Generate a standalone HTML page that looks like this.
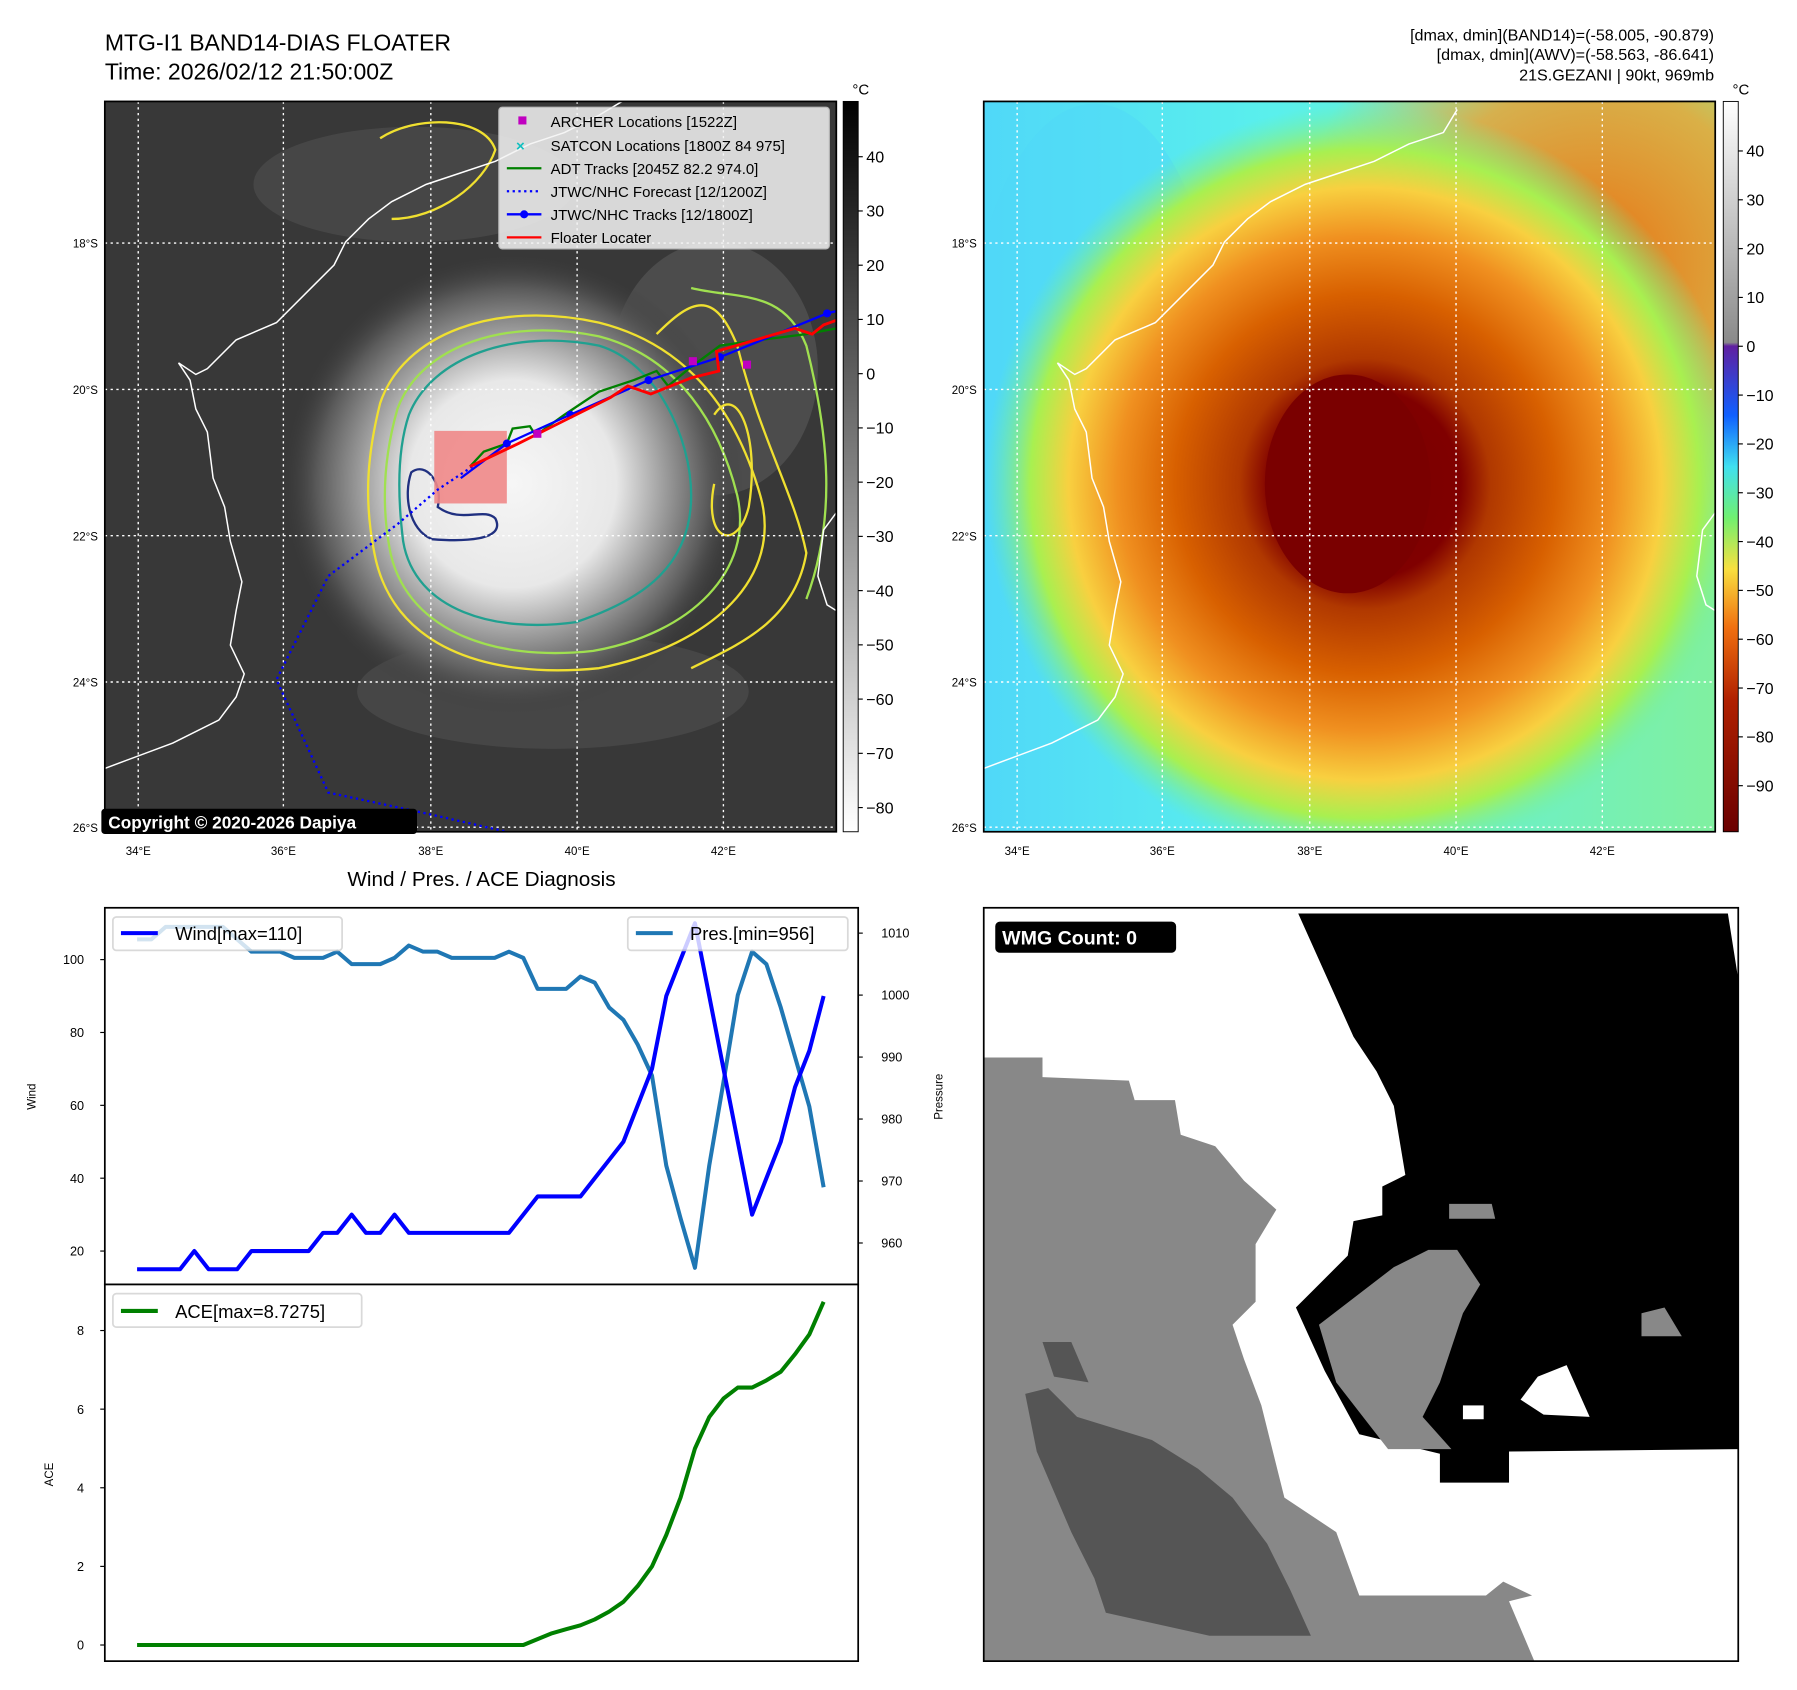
<!DOCTYPE html>
<html><head><meta charset="utf-8"><style>
html,body{margin:0;padding:0;background:#fff;}
svg{display:block;font-family:"Liberation Sans","DejaVu Sans",sans-serif;}
</style></head><body>
<svg id="fig" width="1797" height="1690" viewBox="0 0 1560 1467" xmlns="http://www.w3.org/2000/svg">
<defs>
 <radialGradient id="storm1" cx="445" cy="420" r="200" gradientUnits="userSpaceOnUse">
  <stop offset="0" stop-color="#f6f6f6"/><stop offset="0.45" stop-color="#e8e8e8"/>
  <stop offset="0.65" stop-color="#a0a0a0"/><stop offset="0.85" stop-color="#5a5a5a"/><stop offset="1" stop-color="#3a3a3a" stop-opacity="0"/>
 </radialGradient>
 <radialGradient id="storm2" cx="1185" cy="420" r="330" gradientUnits="userSpaceOnUse">
  <stop offset="0" stop-color="#780000"/><stop offset="0.25" stop-color="#800000"/>
  <stop offset="0.33" stop-color="#b03800"/><stop offset="0.5" stop-color="#d86000"/>
  <stop offset="0.65" stop-color="#f09020"/><stop offset="0.78" stop-color="#f8d040"/>
  <stop offset="0.88" stop-color="#a8f050"/><stop offset="1" stop-color="#70f0a0" stop-opacity="0"/>
 </radialGradient>
 <radialGradient id="ne2" cx="1380" cy="230" r="260" gradientUnits="userSpaceOnUse">
  <stop offset="0" stop-color="#e87010"/><stop offset="0.6" stop-color="#f0a030" stop-opacity="0.8"/><stop offset="1" stop-color="#f0c040" stop-opacity="0"/>
 </radialGradient>
 <linearGradient id="bg2" x1="0" y1="0" x2="1" y2="0">
  <stop offset="0" stop-color="#50d8f8"/><stop offset="0.4" stop-color="#5af0ec"/><stop offset="1" stop-color="#80f0a0"/>
 </linearGradient>
 <linearGradient id="cb1" x1="0" y1="0" x2="0" y2="1">
  <stop offset="0" stop-color="#000"/><stop offset="1" stop-color="#fff"/>
 </linearGradient>
 <linearGradient id="cb2" x1="0" y1="0" x2="0" y2="1">
  <stop offset="0" stop-color="#ffffff"/><stop offset="0.33" stop-color="#8a8a8a"/>
  <stop offset="0.335" stop-color="#6020a0"/><stop offset="0.43" stop-color="#1060ff"/>
  <stop offset="0.5" stop-color="#40e0f0"/><stop offset="0.57" stop-color="#70f070"/>
  <stop offset="0.64" stop-color="#f8e040"/><stop offset="0.72" stop-color="#f07010"/>
  <stop offset="0.82" stop-color="#b02000"/><stop offset="1" stop-color="#6a0000"/>
 </linearGradient>
 <clipPath id="c1"><rect x="91" y="88" width="635" height="634"/></clipPath>
 <clipPath id="c2"><rect x="854" y="88" width="635" height="634"/></clipPath>
 <clipPath id="c3"><rect x="854" y="788" width="655" height="654"/></clipPath>
</defs>

<text x="91" y="44" font-size="20">MTG-I1 BAND14-DIAS FLOATER</text>
<text x="91" y="69" font-size="20">Time: 2026/02/12 21:50:00Z</text>
<g font-size="14" text-anchor="end">
 <text x="1488" y="35">[dmax, dmin](BAND14)=(-58.005, -90.879)</text>
 <text x="1488" y="52">[dmax, dmin](AWV)=(-58.563, -86.641)</text>
 <text x="1488" y="70">21S.GEZANI | 90kt, 969mb</text>
</g>

<!-- MAP 1 -->
<g clip-path="url(#c1)">
 <rect x="91" y="88" width="635" height="634" fill="#383838"/>
 <ellipse cx="360" cy="160" rx="140" ry="50" fill="#505050" opacity="0.6"/>
 <ellipse cx="480" cy="600" rx="170" ry="50" fill="#505050" opacity="0.6"/>
 <ellipse cx="620" cy="320" rx="90" ry="110" fill="#5a5a5a" opacity="0.6"/>
 <circle cx="445" cy="420" r="200" fill="url(#storm1)"/>
 <g fill="none" stroke-width="2">
  <path d="M330,350 C350,290 430,260 520,280 C600,300 640,360 660,430 C680,500 620,560 520,580 C420,590 340,560 325,480 C315,430 320,390 330,350Z" stroke="#f0e030"/>
  <path d="M345,355 C365,300 440,275 520,292 C590,310 625,370 640,430 C655,495 600,550 515,565 C425,575 350,545 338,475 C330,430 335,390 345,355Z" stroke="#a0e050"/>
  <path d="M355,360 C375,310 445,285 520,300 C570,315 600,380 600,430 C600,490 560,520 500,540 C430,550 360,530 350,470 C345,430 345,390 355,360Z" stroke="#20a090"/>
  <path d="M357,410 C370,400 385,420 380,440 C400,455 420,440 430,450 C440,470 400,470 375,468 C355,460 350,430 357,410Z" stroke="#203080"/>
  <path d="M570,290 C600,260 620,250 640,300 C660,380 690,430 700,480 C690,540 640,560 600,580" stroke="#f0e030"/>
  <path d="M600,250 C640,260 680,250 700,300 C720,380 726,450 700,520" stroke="#a0e050"/>
  <path d="M330,120 C360,100 420,100 430,130 C420,160 380,190 340,190" stroke="#f0e030"/>
  <path d="M620,360 C640,330 660,380 650,440 C640,480 610,470 620,420" stroke="#f0e030"/>
 </g>
 <g stroke="#fff" stroke-width="1.2" stroke-dasharray="2,3">
  <line x1="120" y1="88" x2="120" y2="722"/><line x1="246" y1="88" x2="246" y2="722"/><line x1="374" y1="88" x2="374" y2="722"/><line x1="501" y1="88" x2="501" y2="722"/><line x1="628" y1="88" x2="628" y2="722"/>
  <line x1="91" y1="211" x2="726" y2="211"/><line x1="91" y1="338" x2="726" y2="338"/><line x1="91" y1="465" x2="726" y2="465"/><line x1="91" y1="592" x2="726" y2="592"/><line x1="91" y1="718" x2="726" y2="718"/>
 </g>
 <path d="M91,667 L150,645 L190,625 L205,605 L212,585 L200,560 L205,530 L210,505 L200,470 L195,440 L185,415 L180,375 L170,355 L165,330 L155,315 L170,325 L180,320 L205,295 L240,280 L270,250 L290,230 L300,210 L320,190 L340,175 L370,160 L400,150 L430,140 L460,125 L490,115 L520,100 L540,88 M726,445 L715,460 L710,500 L718,525 L726,530" fill="none" stroke="#fff" stroke-width="1.3"/>
 <rect x="377" y="374" width="63" height="63" fill="#f08888" opacity="0.9"/>
 <polyline fill="none" stroke="#0000ff" stroke-width="2" stroke-dasharray="2,3" points="410,405 380,425 345,455 285,500 240,590 285,688 365,705 440,722"/>
 <polyline fill="none" stroke="#008000" stroke-width="2" points="408,405 420,392 440,385 445,372 460,370 465,378 490,360 520,340 550,330 570,322 580,335 598,320 625,300 660,295 700,290 726,285"/>
 <polyline fill="none" stroke="#0000ff" stroke-width="2" points="400,415 440,385 495,360 563,330 625,310 718,272 726,270"/>
 <g fill="#0000ff"><circle cx="440" cy="385" r="3.5"/><circle cx="495" cy="360" r="3.5"/><circle cx="563" cy="330" r="3.5"/><circle cx="625" cy="310" r="3.5"/><circle cx="718" cy="272" r="3.5"/></g>
 <polyline fill="none" stroke="#ff0000" stroke-width="2.5" points="408,405 450,385 490,365 530,345 545,335 565,342 600,328 624,322 622,305 690,285 705,290 715,282 726,278"/>
 <g fill="#c000c0"><rect x="463" y="373" width="7" height="7"/><rect x="598" y="310" width="7" height="7"/><rect x="645" y="313" width="7" height="7"/></g>
</g>
<rect x="91" y="88" width="635" height="634" fill="none" stroke="#000" stroke-width="1.5"/>
<g>
 <rect x="433" y="93" width="287" height="123" fill="#f4f4f4" opacity="0.85" stroke="#ccc" rx="3"/>
 <g font-size="13">
  <rect x="450" y="101" width="7" height="7" fill="#c000c0"/><text x="478" y="110">ARCHER Locations [1522Z]</text>
  <text x="448" y="131" fill="#10c0c0" font-size="13" font-weight="bold">×</text><text x="478" y="131">SATCON Locations [1800Z 84 975]</text>
  <line x1="440" y1="146" x2="470" y2="146" stroke="#008000" stroke-width="2"/><text x="478" y="151">ADT Tracks [2045Z 82.2 974.0]</text>
  <line x1="440" y1="166" x2="470" y2="166" stroke="#0000ff" stroke-width="2" stroke-dasharray="2,3"/><text x="478" y="171">JTWC/NHC Forecast [12/1200Z]</text>
  <line x1="440" y1="186" x2="470" y2="186" stroke="#0000ff" stroke-width="2"/><circle cx="455" cy="186" r="3.5" fill="#0000ff"/><text x="478" y="191">JTWC/NHC Tracks [12/1800Z]</text>
  <line x1="440" y1="206" x2="470" y2="206" stroke="#ff0000" stroke-width="2"/><text x="478" y="211">Floater Locater</text>
 </g>
</g>
<g>
 <rect x="88" y="702" width="274" height="22" rx="3" fill="#000"/>
 <text x="94" y="719" fill="#fff" font-size="15" font-weight="bold">Copyright © 2020-2026 Dapiya</text>
</g>
<g font-size="10">
 <g text-anchor="end"><text x="85" y="215">18°S</text><text x="85" y="342">20°S</text><text x="85" y="469">22°S</text><text x="85" y="596">24°S</text><text x="85" y="722">26°S</text></g>
 <g text-anchor="middle"><text x="120" y="742">34°E</text><text x="246" y="742">36°E</text><text x="374" y="742">38°E</text><text x="501" y="742">40°E</text><text x="628" y="742">42°E</text></g>
</g>
<g>
 <rect x="732" y="88" width="13" height="634" fill="url(#cb1)" stroke="#000" stroke-width="0.8"/>
 <text x="740" y="82" font-size="13">°C</text>
 <g font-size="14" id="cb1labels"></g>
</g>

<!-- MAP 2 -->
<g clip-path="url(#c2)">
 <rect x="854" y="88" width="635" height="634" fill="url(#bg2)"/>
 <ellipse cx="950" cy="330" rx="110" ry="240" fill="#4fd8f8" opacity="0.5"/>
 <circle cx="1380" cy="230" r="260" fill="url(#ne2)"/>
 <circle cx="1185" cy="420" r="330" fill="url(#storm2)"/>
 <ellipse cx="1170" cy="420" rx="72" ry="95" fill="#7a0000"/>
 <g stroke="#fff" stroke-width="1.2" stroke-dasharray="2,3">
  <line x1="883" y1="88" x2="883" y2="722"/><line x1="1009" y1="88" x2="1009" y2="722"/><line x1="1137" y1="88" x2="1137" y2="722"/><line x1="1264" y1="88" x2="1264" y2="722"/><line x1="1391" y1="88" x2="1391" y2="722"/>
  <line x1="854" y1="211" x2="1489" y2="211"/><line x1="854" y1="338" x2="1489" y2="338"/><line x1="854" y1="465" x2="1489" y2="465"/><line x1="854" y1="592" x2="1489" y2="592"/><line x1="854" y1="718" x2="1489" y2="718"/>
 </g>
 <path d="M854,667 L913,645 L953,625 L968,605 L975,585 L963,560 L968,530 L973,505 L963,470 L958,440 L948,415 L943,375 L933,355 L928,330 L918,315 L933,325 L943,320 L968,295 L1003,280 L1033,250 L1053,230 L1063,210 L1083,190 L1103,175 L1133,160 L1163,150 L1193,140 L1223,125 L1253,115 L1265,95 M1489,445 L1478,460 L1473,500 L1481,525 L1489,530" fill="none" stroke="#fff" stroke-width="1.3"/>
</g>
<rect x="854" y="88" width="635" height="634" fill="none" stroke="#000" stroke-width="1.5"/>
<g font-size="10">
 <g text-anchor="end"><text x="848" y="215">18°S</text><text x="848" y="342">20°S</text><text x="848" y="469">22°S</text><text x="848" y="596">24°S</text><text x="848" y="722">26°S</text></g>
 <g text-anchor="middle"><text x="883" y="742">34°E</text><text x="1009" y="742">36°E</text><text x="1137" y="742">38°E</text><text x="1264" y="742">40°E</text><text x="1391" y="742">42°E</text></g>
</g>
<g>
 <rect x="1496" y="88" width="13" height="634" fill="url(#cb2)" stroke="#000" stroke-width="0.8"/>
 <text x="1504" y="82" font-size="13">°C</text>
 <g font-size="14" id="cb2labels"></g>
</g>

<!-- Diagnosis chart -->
<text x="418" y="769" font-size="18" text-anchor="middle">Wind / Pres. / ACE Diagnosis</text>
<g id="wind-axes">
 <rect x="91" y="788" width="654" height="327" fill="#fff" stroke="#000" stroke-width="1.5"/>
</g>
<g id="ace-axes">
 <rect x="91" y="1115" width="654" height="327" fill="#fff" stroke="#000" stroke-width="1.5"/>
</g>
<text transform="translate(31,952) rotate(-90)" font-size="10" text-anchor="middle">Wind</text>
<text transform="translate(818,952) rotate(-90)" font-size="10" text-anchor="middle">Pressure</text>
<text transform="translate(46,1280) rotate(-90)" font-size="10" text-anchor="middle">ACE</text>
<g id="lines"></g>
<g>
 <rect x="98" y="796" width="199" height="29" rx="3" fill="#fff" opacity="0.8" stroke="#d0d0d0" stroke-width="1.5"/>
 <line x1="105" y1="810" x2="137" y2="810" stroke="#0000ff" stroke-width="3.5"/>
 <text x="152" y="816" font-size="16">Wind[max=110]</text>
</g>
<g>
 <rect x="545" y="796" width="191" height="29" rx="3" fill="#fff" opacity="0.8" stroke="#d0d0d0" stroke-width="1.5"/>
 <line x1="552" y1="810" x2="584" y2="810" stroke="#1f77b4" stroke-width="3.5"/>
 <text x="599" y="816" font-size="16">Pres.[min=956]</text>
</g>
<g>
 <rect x="98" y="1123" width="216" height="29" rx="3" fill="#fff" opacity="0.8" stroke="#d0d0d0" stroke-width="1.5"/>
 <line x1="105" y1="1138" x2="137" y2="1138" stroke="#008000" stroke-width="3.5"/>
 <text x="152" y="1144" font-size="16">ACE[max=8.7275]</text>
</g>

<!-- WMG panel -->
<g clip-path="url(#c3)">
 <rect x="854" y="788" width="655" height="654" fill="#fff"/>
 <polygon fill="#888" points="854,918 905,918 905,935 980,938 985,955 1020,955 1025,985 1055,995 1080,1025 1108,1050 1090,1080 1090,1130 1070,1150 1080,1180 1095,1220 1105,1260 1115,1300 1160,1330 1180,1385 1290,1385 1305,1373 1330,1385 1310,1390 1332,1442 854,1442"/>
 <polygon fill="#555" points="890,1210 910,1205 935,1230 1000,1250 1040,1275 1070,1300 1100,1340 1120,1380 1138,1420 1050,1420 960,1400 950,1370 930,1330 900,1260"/>
 <polygon fill="#555" points="905,1165 930,1165 945,1200 915,1195"/>
 <polygon fill="#000" points="1127,793 1500,793 1509,850 1509,1258 1310,1260 1310,1287 1250,1287 1250,1262 1180,1245 1150,1190 1125,1135 1140,1120 1170,1090 1175,1060 1200,1055 1200,1030 1220,1020 1210,960 1195,930 1175,900"/>
 <polygon fill="#888" points="1145,1150 1210,1100 1240,1085 1265,1085 1285,1115 1270,1140 1250,1200 1235,1230 1260,1258 1205,1258 1160,1200"/>
 <polygon fill="#fff" points="1335,1195 1360,1185 1380,1230 1340,1228 1320,1215"/>
 <rect x="1270" y="1220" width="18" height="12" fill="#fff"/>
 <polygon fill="#888" points="1258,1045 1295,1045 1298,1058 1258,1058"/>
 <polygon fill="#888" points="1425,1140 1445,1135 1460,1160 1425,1160"/>
</g>
<rect x="854" y="788" width="655" height="654" fill="none" stroke="#000" stroke-width="1.5"/>
<g>
 <rect x="864" y="800" width="157" height="27" rx="4" fill="#000"/>
 <text x="870" y="820" fill="#fff" font-size="17" font-weight="bold">WMG Count: 0</text>
</g>
</svg>
<script>
const windValues = [15,15,15,15,20,15,15,15,20,20,20,20,20,25,25,30,25,25,30,25,25,25,25,25,25,25,25,30,35,35,35,35,40,45,50,60,70,90,100,110,90,70,50,30,40,50,65,75,90];
const pressureValues = [1009,1009,1011,1011,1011,1011,1011,1009,1007,1007,1007,1006,1006,1006,1007,1005,1005,1005,1006,1008,1007,1007,1006,1006,1006,1006,1007,1006,1001,1001,1001,1003,1002,998,996,992,987,972.5,964,956,972.5,986,1000,1007,1005,998,990,982,969];
const aceValues = [0,0,0,0,0,0,0,0,0,0,0,0,0,0,0,0,0,0,0,0,0,0,0,0,0,0,0,0,0.15,0.3,0.4,0.5,0.65,0.85,1.1,1.5,2.0,2.8,3.75,5.0,5.8,6.27,6.55,6.55,6.73,6.95,7.4,7.9,8.73];
const windTicks = [20,40,60,80,100];
const pressureTicks = [960,970,980,990,1000,1010];
const aceTicks = [0,2,4,6,8];
const irColorbarTicks = [40,30,20,10,0,-10,-20,-30,-40,-50,-60,-70,-80];
const wvColorbarTicks = [40,30,20,10,0,-10,-20,-30,-40,-50,-60,-70,-80,-90];

const NS = 'http://www.w3.org/2000/svg';
function mk(tag, attrs, parent){const e=document.createElementNS(NS,tag);for(const k in attrs)e.setAttribute(k,attrs[k]);parent.appendChild(e);return e;}
const xScale = i => 119 + i*(715-119)/(windValues.length-1);
const yWind = v => 1086 - (v-20)*(1086-833)/80;
const yPres = v => 1079 - (v-960)*(1079-810)/50;
const yAce = v => 1428 - v*(1428-1155)/8;
const yIr = v => 136 + (40-v)*(701-136)/120;
const yWv = v => 131 + (40-v)*(682-131)/130;

const fig = document.getElementById('fig');
const lines = document.getElementById('lines');
function ticks(arr, scale, x, side, name){
  arr.forEach(t=>{
    const y=scale(t);
    const g=mk('g',{},fig);
    
    
    if(side==='left'){mk('line',{x1:x-4,y1:y,x2:x,y2:y,stroke:'#000'},g);mk('text',{x:x-18,y:y+4,'font-size':11,'text-anchor':'end'},g).textContent=t;}
    else {mk('line',{x1:x,y1:y,x2:x+4,y2:y,stroke:'#000'},g);mk('text',{x:x+20,y:y+4,'font-size':11},g).textContent=t;}
  });
}
ticks(windTicks,yWind,91,'left','wind');
ticks(pressureTicks,yPres,745,'right','pressure');
ticks(aceTicks,yAce,91,'left','ace');

function series(vals, scale, color, name){
  const pts = vals.map((v,i)=>xScale(i).toFixed(1)+','+scale(v).toFixed(1)).join(' ');
  const p = mk('polyline',{points:pts,fill:'none',stroke:color,'stroke-width':3.5,'stroke-linejoin':'round'},lines);
  
  
}
series(pressureValues,yPres,'#1f77b4','pressure-line');
series(windValues,yWind,'#0000ff','wind-line');
series(aceValues,yAce,'#008000','ace-line');

const cb1 = document.getElementById('cb1labels');
irColorbarTicks.forEach(t=>{
  const y=yIr(t);
  mk('line',{x1:745,y1:y,x2:749,y2:y,stroke:'#000'},cb1);
  const tx = mk('text',{x:752,y:y+5},cb1);
  
  
  tx.textContent = t<0 ? '\u2212'+(-t) : t;
});
const cb2 = document.getElementById('cb2labels');
wvColorbarTicks.forEach(t=>{
  const y=yWv(t);
  mk('line',{x1:1509,y1:y,x2:1513,y2:y,stroke:'#000'},cb2);
  const tx = mk('text',{x:1516,y:y+5},cb2);
  
  
  tx.textContent = t<0 ? '\u2212'+(-t) : t;
});
</script>
</body></html>
